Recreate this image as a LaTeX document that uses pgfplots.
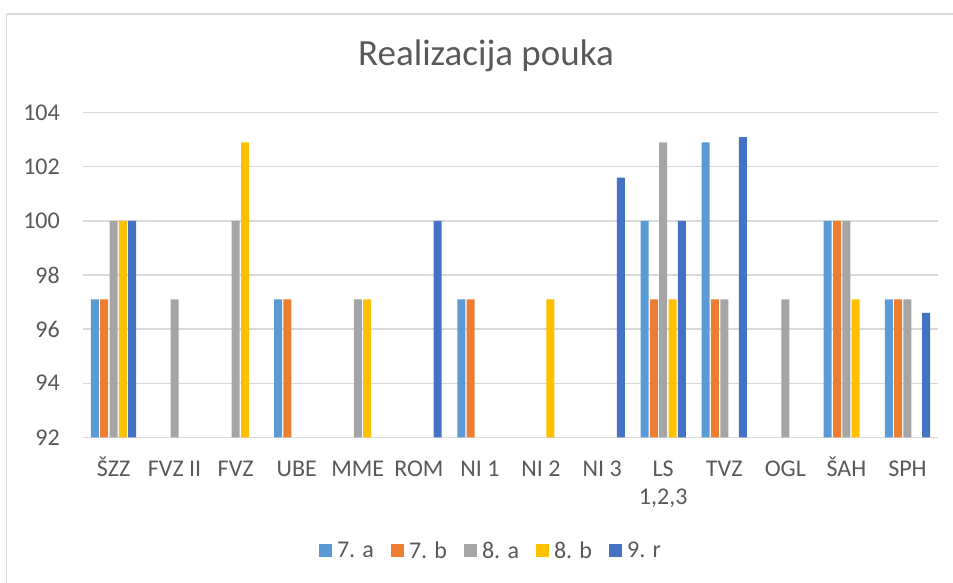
\documentclass[border=0pt]{standalone}
\usepackage{fontspec}
\setmainfont{Carlito}
\usepackage{pgfplots}
\pgfplotsset{compat=1.18}
\definecolor{c7a}{HTML}{5B9BD5}
\definecolor{c7b}{HTML}{ED7D31}
\definecolor{c8a}{HTML}{A5A5A5}
\definecolor{c8b}{HTML}{FFC000}
\definecolor{c9r}{HTML}{4472C4}
\definecolor{gridc}{HTML}{D9D9D9}
\definecolor{txt}{HTML}{595959}
\begin{document}
\begin{tikzpicture}[x=1pt,y=1pt]
\draw[gridc, line width=1.3pt, rounded corners=2pt] (6.5,569) -- (6.5,-10) (6.5,569) -- (960,569);
\node[txt, font=\fontsize{37}{44}\selectfont, anchor=base, inner sep=0pt] at (486,517) {Realizacija pouka};
\begin{axis}[
  at={(83pt,145.7pt)}, anchor=south west,
  scale only axis, width=855pt, height=324.6pt,
  ybar=1.33pt, bar width=8pt,
  ymin=92, ymax=104, ytick={92,94,...,104},
  xmin=-0.5, xmax=13.5,
  xtick={0,...,13},
  xticklabels={ŠZZ, FVZ II, FVZ, UBE, MME, ROM, NI 1, NI 2, NI 3, {\begin{tabular}[t]{@{}c@{}}LS\\1,2,3\end{tabular}}, TVZ, OGL, ŠAH, SPH},
  /pgf/number format/assume math mode=true,
  ymajorgrids, major grid style={gridc, line width=1.3pt},
  axis line style={draw=none},
  major tick length=0pt,
  tick label style={txt, font=\fontsize{24}{28}\selectfont, inner sep=0pt},
  x tick label style={anchor=base, yshift=-39pt},
  y tick label style={anchor=east, xshift=-23pt},
  legend style={at={(0.476,-0.350)}, anchor=center, draw=none, fill=none,
    legend columns=5, font=\fontsize{24}{28}\selectfont, text=txt,
    nodes={inner sep=0pt},
    /tikz/every odd column/.style={column sep=5pt},
    /tikz/every even column/.style={column sep=17pt}},
  legend image code/.code={\fill[#1] (0pt,-6.5pt) rectangle (13pt,6.5pt);},
  clip=true,
]
\addplot[fill=c7a, draw=none] coordinates {(0,97.1) (3,97.1) (6,97.1) (9,100) (10,102.9) (12,100) (13,97.1)};
\addplot[fill=c7b, draw=none] coordinates {(0,97.1) (3,97.1) (6,97.1) (9,97.1) (10,97.1) (12,100) (13,97.1)};
\addplot[fill=c8a, draw=none] coordinates {(0,100) (1,97.1) (2,100) (4,97.1) (9,102.9) (10,97.1) (11,97.1) (12,100) (13,97.1)};
\addplot[fill=c8b, draw=none] coordinates {(0,100) (2,102.9) (4,97.1) (7,97.1) (9,97.1) (12,97.1)};
\addplot[fill=c9r, draw=none] coordinates {(0,100) (5,100) (8,101.6) (9,100) (10,103.1) (13,96.6)};
\legend{7. a, 7. b, 8. a, 8. b, 9. r}
\end{axis}
\pgfresetboundingbox
\path (0,0) rectangle (953,583);
\end{tikzpicture}
\end{document}
